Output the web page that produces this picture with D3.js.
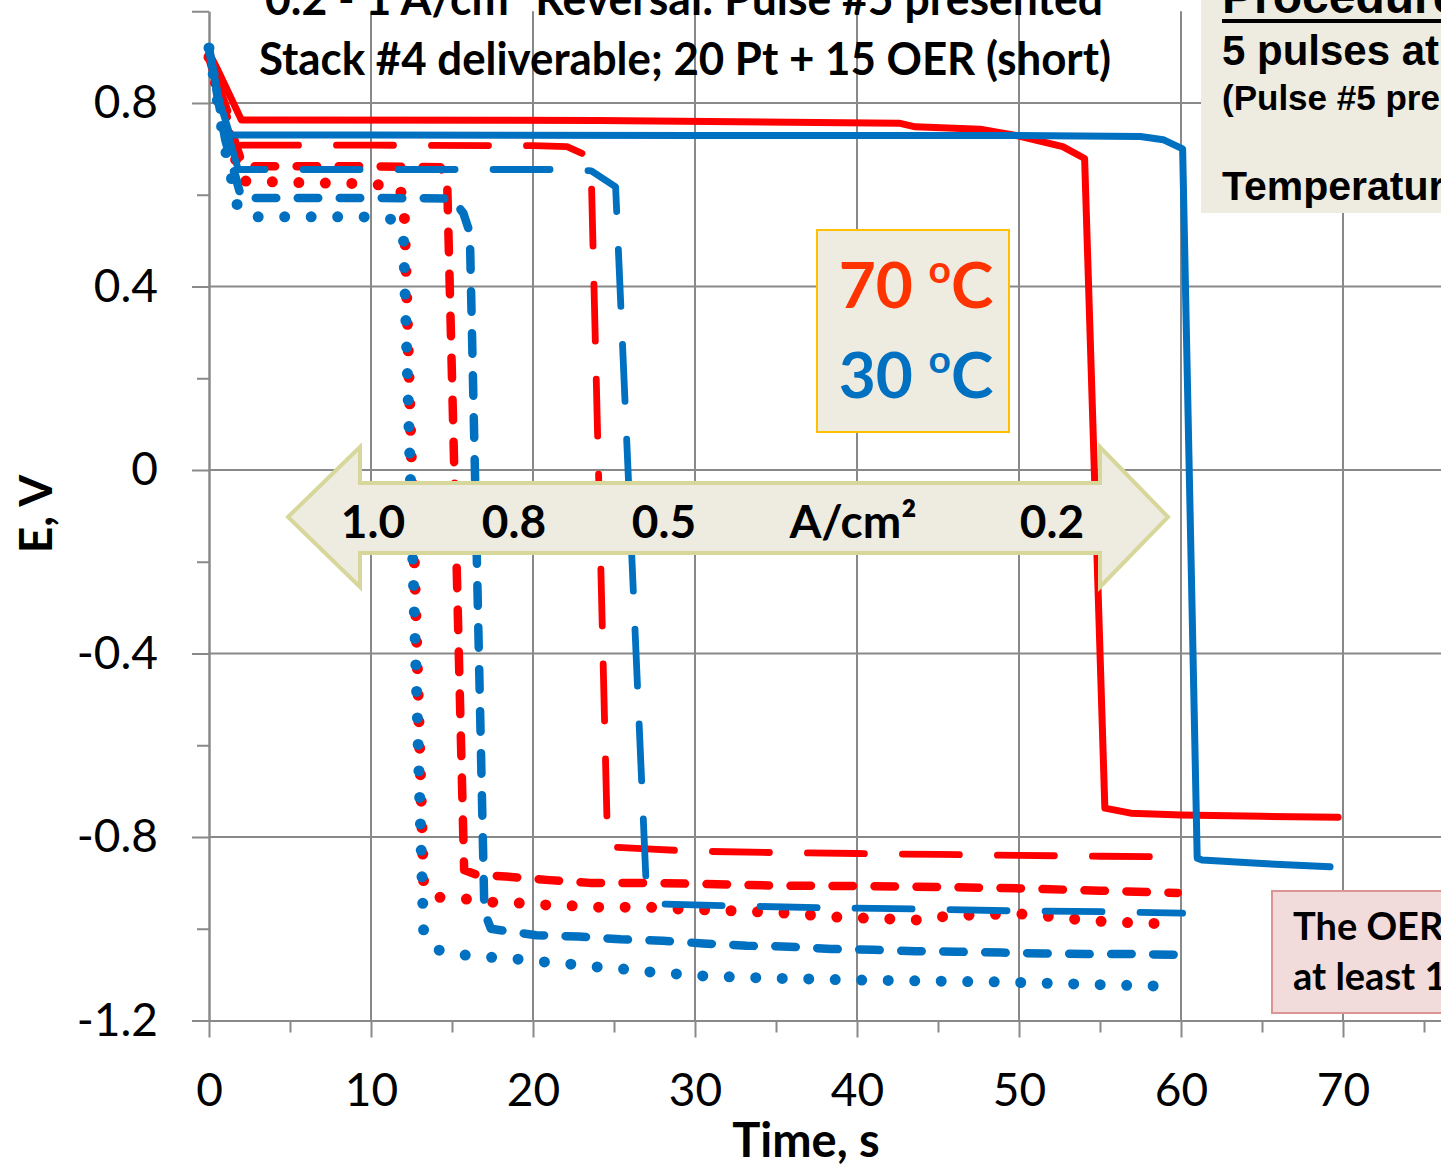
<!DOCTYPE html>
<html><head><meta charset="utf-8">
<script src="https://cdn.jsdelivr.net/npm/d3@7"></script>
<style>
html,body{margin:0;padding:0;background:#fff;overflow:hidden}
svg{display:block}
</style></head><body>
<svg id="chart" width="1441" height="1168"></svg>
<script>
// Axis ticks and their labels
const xMajorTicks = [0, 10, 20, 30, 40, 50, 60, 70, 80];
const xTickLabels = ["0", "10", "20", "30", "40", "50", "60", "70"];
const xMinorTicks = [5, 15, 25, 35, 45, 55, 65, 75];
const yMajorTicks = [-1.2, -0.8, -0.4, 0, 0.4, 0.8];
const yTickLabels = ["-1.2", "-0.8", "-0.4", "0", "0.4", "0.8"];
const yMinorTicks = [-1.0, -0.6, -0.2, 0.2, 0.6];

// Cell potential E (V) vs time (s), pulse #5 — 70 °C
const e70_02 = [[0,0.91],[0.5,0.875],[2.0,0.763],[24,0.762],[42.6,0.756],[43.6,0.748],[47.6,0.743],[50.0,0.728],[52.7,0.705],[54.05,0.679],[55.3,-0.737],[56.9,-0.748],[60,-0.752],[65,-0.755],[69.7,-0.757]];
const e70_05 = [[0,0.90],[1.0,0.80],[1.9,0.708],[10,0.708],[20,0.707],[22.1,0.705],[23.1,0.689],[23.6,0.64],[24.6,-0.812],[25.0,-0.822],[27,-0.826],[30,-0.831],[35,-0.834],[40,-0.836],[45,-0.838],[50,-0.840],[55,-0.842],[58.1,-0.843]];
const e70_08 = [[0,0.90],[1.0,0.78],[2.1,0.662],[10,0.662],[14.3,0.660],[14.7,0.63],[15.75,-0.872],[16.5,-0.882],[18.3,-0.886],[21,-0.894],[23.5,-0.90],[27,-0.900],[30,-0.902],[35,-0.906],[40,-0.907],[45,-0.909],[50,-0.912],[55,-0.917],[59.8,-0.922]];
const e70_10 = [[0,0.90],[1.0,0.76],[2.0,0.63],[6,0.626],[10,0.624],[11.8,0.615],[12.05,0.566],[13.25,-0.905],[13.5,-0.922],[14.1,-0.931],[15.8,-0.935],[17.5,-0.942],[19.1,-0.944],[20.7,-0.948],[22.4,-0.950],[24.0,-0.953],[27.2,-0.953],[29.1,-0.957],[32.4,-0.961],[35.7,-0.966],[38.9,-0.975],[42.3,-0.979],[43.9,-0.981],[45.6,-0.972],[48.9,-0.968],[50.5,-0.968],[52.1,-0.974],[53.9,-0.981],[55.5,-0.985],[57.1,-0.987],[58.8,-0.989]];

// Cell potential E (V) vs time (s), pulse #5 — 30 °C
const e30_02 = [[0,0.92],[0.5,0.82],[1.3,0.730],[10,0.730],[30,0.729],[50,0.729],[57.5,0.727],[58.9,0.720],[60.1,0.70],[61.0,-0.846],[61.3,-0.850],[65,-0.858],[69.2,-0.865]];
const e30_05 = [[0,0.92],[0.8,0.78],[1.8,0.655],[10,0.655],[22.4,0.655],[23.6,0.652],[25.1,0.617],[27.0,-0.915],[28.0,-0.946],[32,-0.950],[37.8,-0.954],[43.8,-0.957],[49.6,-0.961],[55.5,-0.963],[60.1,-0.966]];
const e30_08 = [[0,0.92],[1.0,0.72],[2.0,0.593],[10,0.593],[15.0,0.592],[15.7,0.56],[16.1,0.517],[17.0,-0.963],[17.4,-1.0],[18.3,-1.005],[20.2,-1.014],[22.8,-1.017],[25.4,-1.023],[28,-1.026],[30.5,-1.032],[33.2,-1.037],[35.8,-1.039],[38.4,-1.044],[41,-1.046],[43.6,-1.049],[46.2,-1.050],[48.9,-1.052],[51.5,-1.054],[54.1,-1.055],[56.7,-1.055],[60.1,-1.057]];
const e30_10 = [[0,0.92],[1.0,0.70],[1.8,0.568],[3.0,0.552],[9.5,0.552],[11.2,0.547],[12.0,0.512],[13.2,-0.95],[13.25,-1.007],[14.1,-1.046],[15.7,-1.057],[17.3,-1.062],[19.0,-1.066],[20.6,-1.072],[22.3,-1.077],[23.9,-1.083],[25.6,-1.088],[27.2,-1.094],[30.5,-1.103],[35,-1.108],[40.4,-1.112],[48.9,-1.116],[54,-1.121],[58.6,-1.125]];

const currentLabels = ["1.0", "0.8", "0.5", "A/cm\u00B2", "0.2"];

const svg = d3.select("#chart");
const x = d3.scaleLinear().domain([0, 80]).range([209, 1505]);
const y = d3.scaleLinear().domain([-1.2, 1.0]).range([1020.5, 11.25]);

const gridColor = "#898989";
const tickFont = "Lato, 'Open Sans', sans-serif";

// grid
const grid = svg.append("g");
grid.selectAll("line.v").data(xMajorTicks.filter(d => d > 0)).join("line")
  .attr("x1", d => x(d)).attr("x2", d => x(d))
  .attr("y1", y(1.0)).attr("y2", y(-1.2))
  .attr("stroke", gridColor).attr("stroke-width", 2);
grid.selectAll("line.h").data(yMajorTicks.filter(d => d > -1.2)).join("line")
  .attr("x1", x(0)).attr("x2", x(80))
  .attr("y1", d => y(d)).attr("y2", d => y(d))
  .attr("stroke", gridColor).attr("stroke-width", 2);

// axes
function styleAxis(g) {
  g.select(".domain").attr("stroke", gridColor).attr("stroke-width", 2);
  g.selectAll(".tick line").attr("stroke", gridColor).attr("stroke-width", 2);
  g.selectAll("text").attr("font-family", tickFont).attr("font-size", 46).attr("fill", "#000");
}
const yAxis = d3.axisLeft(y).tickValues(yMajorTicks.concat([1.0])).tickSize(17).tickSizeOuter(0).tickPadding(34)
  .tickFormat(d => { const i = yMajorTicks.indexOf(d); return i < 0 ? "" : yTickLabels[i]; });
svg.append("g").attr("transform", `translate(${x(0)},0)`).call(yAxis).call(styleAxis);
svg.append("g").attr("transform", `translate(${x(0)},0)`)
  .call(d3.axisLeft(y).tickValues(yMinorTicks).tickSize(12).tickSizeOuter(0).tickFormat(""))
  .call(styleAxis);
const xAxis = d3.axisBottom(x).tickValues(xMajorTicks).tickSize(17).tickSizeOuter(0).tickPadding(36)
  .tickFormat(d => xTickLabels[xMajorTicks.indexOf(d)] || "");
svg.append("g").attr("transform", `translate(0,${y(-1.2)})`).call(xAxis).call(styleAxis);
svg.append("g").attr("transform", `translate(0,${y(-1.2)})`)
  .call(d3.axisBottom(x).tickValues(xMinorTicks).tickSize(12).tickSizeOuter(0).tickFormat(""))
  .call(styleAxis);

// series
const styles = {
  solid:  { w: 7,   dash: null },
  long:   { w: 6.8, dash: "57,38" },
  medium: { w: 8.5, dash: "20.5,21.5" },
  dot:    { w: 11,  dash: "0,26.5" }
};
const red = "#ff0000", blue = "#0070c0";
const series = [
  { data: e70_02, color: red,  style: "solid" },
  { data: e70_05, color: red,  style: "long" },
  { data: e70_08, color: red,  style: "medium" },
  { data: e70_10, color: red,  style: "dot" },
  { data: e30_02, color: blue, style: "solid" },
  { data: e30_05, color: blue, style: "long" },
  { data: e30_08, color: blue, style: "medium" },
  { data: e30_10, color: blue, style: "dot" }
];
const line = d3.line().x(d => x(d[0])).y(d => y(d[1]));
svg.append("g").selectAll("path").data(series).join("path")
  .attr("d", s => line(s.data))
  .attr("fill", "none")
  .attr("stroke", s => s.color)
  .attr("stroke-width", s => styles[s.style].w)
  .attr("stroke-dasharray", s => styles[s.style].dash)
  .attr("stroke-linecap", "round")
  .attr("stroke-linejoin", "round");

// title
const title = svg.append("g").attr("font-family", tickFont).attr("font-weight", 700).attr("font-size", 46).attr("fill", "#000");
const t1 = title.append("text").attr("x", 684).attr("y", 15).attr("text-anchor", "middle")
  .attr("textLength", 838).attr("lengthAdjust", "spacingAndGlyphs");
t1.append("tspan").text("0.2 - 1 A/cm");
t1.append("tspan").attr("font-size", 28).attr("dy", -18).text("2");
t1.append("tspan").attr("dy", 18).text(" Reversal: Pulse #5 presented");
title.append("text").attr("x", 685).attr("y", 75).attr("text-anchor", "middle")
  .attr("textLength", 852).attr("lengthAdjust", "spacingAndGlyphs")
  .text("Stack #4 deliverable; 20 Pt + 15 OER (short)");

// axis titles
svg.append("text").attr("x", 806).attr("y", 1157).attr("text-anchor", "middle")
  .attr("font-family", tickFont).attr("font-weight", 700).attr("font-size", 47)
  .text("Time, s");
svg.append("text").attr("transform", "translate(52,514) rotate(-90)").attr("text-anchor", "middle")
  .attr("font-family", tickFont).attr("font-weight", 700).attr("font-size", 46)
  .text("E, V");

// double-headed current density arrow
const arrowPts = [[288,517],[360,447],[360,483],[1100,483],[1100,447],[1168,517],[1100,587],[1100,553],[360,553],[360,587]];
svg.append("path").attr("d", d3.line()(arrowPts) + "Z")
  .attr("fill", "#eeece1").attr("stroke", "#d7d79b").attr("stroke-width", 4).attr("stroke-linejoin", "miter");
const arrowX = [373, 514, 664, 853, 1052];
svg.append("g").selectAll("text").data(currentLabels).join("text")
  .attr("x", (d, i) => arrowX[i]).attr("y", 538).attr("text-anchor", "middle")
  .attr("font-family", tickFont).attr("font-weight", 700).attr("font-size", 46)
  .text(d => d);

// temperature key
svg.append("rect").attr("x", 817).attr("y", 230).attr("width", 192).attr("height", 202)
  .attr("fill", "#eeece1").attr("stroke", "#ffc000").attr("stroke-width", 2);
[["70", "#ff3300", 308], ["30", blue, 398]].forEach(([v, c, by]) => {
  const t = svg.append("text").attr("x", 916).attr("y", by).attr("text-anchor", "middle")
    .attr("font-family", tickFont).attr("font-weight", 700).attr("font-size", 64).attr("fill", c);
  t.append("tspan").text(v + " ");
  t.append("tspan").attr("font-size", 39).attr("dy", -25).text("o");
  t.append("tspan").attr("dy", 25).text("C");
});

// procedure note
svg.append("rect").attr("x", 1201).attr("y", -10).attr("width", 320).attr("height", 223).attr("fill", "#eeece1");
const arial = "'Liberation Sans', Arial, sans-serif";
const proc = svg.append("g").attr("font-family", arial).attr("font-weight", 700).attr("fill", "#000");
proc.append("text").attr("x", 1222).attr("y", 13).attr("font-size", 48).text("Procedure:");
proc.append("rect").attr("x", 1222).attr("y", 19).attr("width", 260).attr("height", 4).attr("fill", "#000");
proc.append("text").attr("x", 1222).attr("y", 65).attr("font-size", 42).text("5 pulses at each current");
proc.append("text").attr("x", 1222).attr("y", 110).attr("font-size", 35).text("(Pulse #5 presented)");
proc.append("text").attr("x", 1222).attr("y", 200).attr("font-size", 41).text("Temperature: 70 and 30 \u00B0C");

// OER note
svg.append("rect").attr("x", 1272).attr("y", 891).attr("width", 260).attr("height", 122)
  .attr("fill", "#f2dcdb").attr("stroke", "#d99694").attr("stroke-width", 2);
const oer = svg.append("g").attr("font-family", tickFont).attr("font-weight", 700).attr("font-size", 38).attr("fill", "#000");
oer.append("text").attr("x", 1293).attr("y", 940).text("The OER survived");
oer.append("text").attr("x", 1293).attr("y", 990).text("at least 1 min");
</script>
</body></html>
